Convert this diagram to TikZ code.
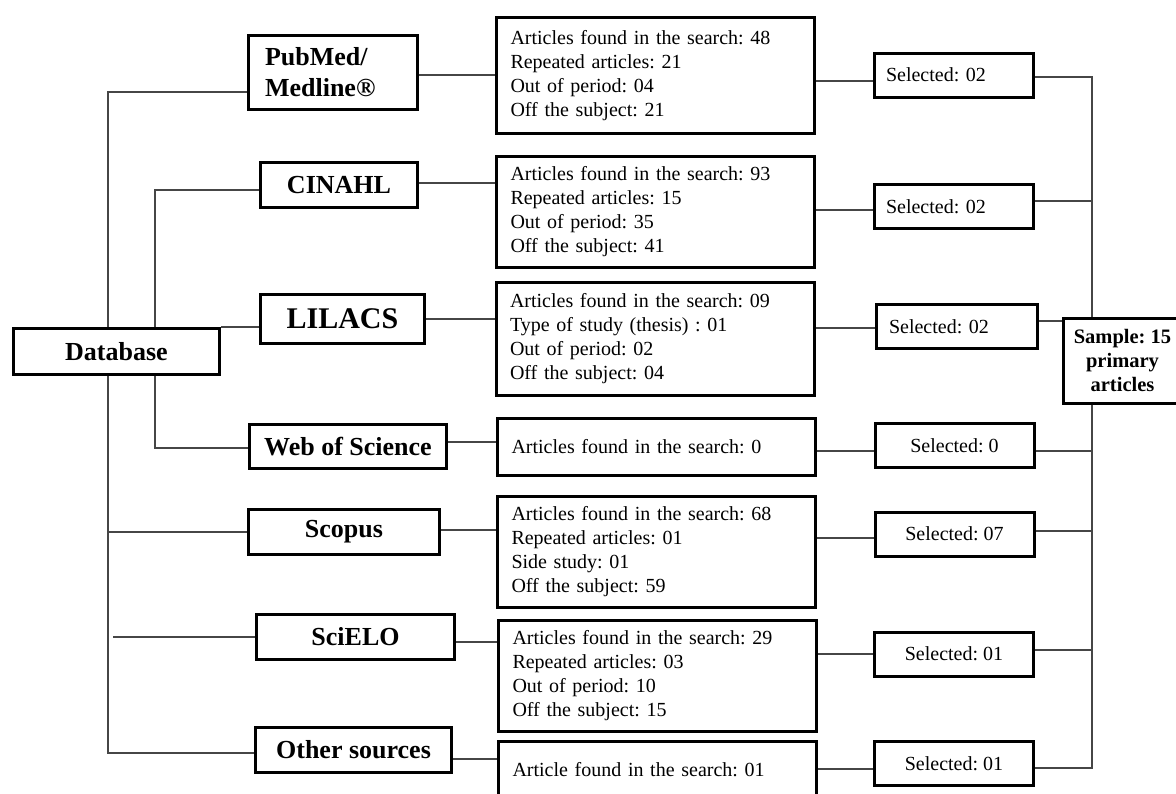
\documentclass[tikz,border=0pt]{standalone}
\usepackage{fontspec}
\setmainfont{Liberation Serif}
\usepackage{tikz}
\frenchspacing

\begin{document}
\begin{tikzpicture}[x=1pt,y=1pt,yscale=-1,
    dbbox/.style={draw,line width=3pt,fill=white,inner sep=0pt,font=\fontsize{26}{31}\selectfont\bfseries},
    infobox/.style={draw,line width=3pt,fill=white,inner xsep=14pt,inner ysep=0pt,text width=290pt,align=left,font=\fontsize{20}{24}\selectfont},
    selbox/.style={draw,line width=3pt,fill=white,inner sep=0pt,minimum width=159pt,minimum height=44pt,font=\fontsize{20}{24}\selectfont},
    link/.style={draw={rgb,255:red,70;green,70;blue,70},line width=1.2pt}]
    \useasboundingbox (0,0) rectangle (1176,793);
    \fill[white] (0,0) rectangle (1176,793);

    %spines of the tree
    \coordinate (spineA) at (108,0);
    \coordinate (spineB) at (155,0);
    \coordinate (spineC) at (1092,0);

    %Database and the sources
    \node[dbbox, minimum width=206pt, minimum height=46pt] (db) at (116.5,351.5) {Database};
    \node[dbbox, minimum width=169pt, minimum height=74pt, text width=136pt, align=left] (pubmed) at (333,72.5) {PubMed/\\Medline®};
    \node[dbbox, minimum width=157pt, minimum height=45pt] (cinahl) at (339,185) {CINAHL};
    \node[dbbox, minimum width=164pt, minimum height=49pt, font=\fontsize{30}{34}\selectfont\bfseries] (lilacs) at (342.5,319) {LILACS};
    \node[dbbox, minimum width=197pt, minimum height=44pt] (wos) at (348,446.5) {Web of Science};
    \node[dbbox, minimum width=191pt, minimum height=45pt] (scopus) at (344,532) {Scopus};
    \node[dbbox, minimum width=198pt, minimum height=45pt] (scielo) at (355.5,637) {SciELO};
    \node[dbbox, minimum width=196pt, minimum height=45pt] (other) at (353.5,750) {Other sources};

    %search results
    \node[infobox, minimum height=116pt] (pubmedres) at (655.5,75.5) {Articles found in the search: 48\\Repeated articles: 21\\Out of period: 04\\Off the subject: 21};
    \node[infobox, minimum height=111pt] (cinahlres) at (655.5,212) {Articles found in the search: 93\\Repeated articles: 15\\Out of period: 35\\Off the subject: 41};
    \node[infobox, minimum height=113pt] (lilacsres) at (655,339) {Articles found in the search: 09\\Type of study (thesis) : 01\\Out of period: 02\\Off the subject: 04};
    \node[infobox, minimum height=57pt] (wosres) at (656.5,447) {Articles found in the search: 0};
    \node[infobox, minimum height=111pt] (scopusres) at (656.5,552) {Articles found in the search: 68\\Repeated articles: 01\\Side study: 01\\Off the subject: 59};
    \node[infobox, minimum height=111pt] (scielores) at (657.5,676) {Articles found in the search: 29\\Repeated articles: 03\\Out of period: 10\\Off the subject: 15};
    \node[infobox, minimum height=57pt] (otherres) at (657.5,770) {Article found in the search: 01};

    %selected
    \node[selbox, text width=136pt, align=left] (pubmedsel) at (954,75) {Selected: 02};
    \node[selbox, text width=136pt, align=left] (cinahlsel) at (954,206.5) {Selected: 02};
    \node[selbox, minimum width=161pt, text width=136pt, align=left] (lilacssel) at (957,326.5) {Selected: 02};
    \node[selbox] (wossel) at (954.5,445.5) {Selected: 0};
    \node[selbox] (scopussel) at (954.5,534) {Selected: 07};
    \node[selbox] (scielosel) at (954,654) {Selected: 01};
    \node[selbox] (othersel) at (954,763.5) {Selected: 01};

    %sample
    \node[dbbox, font=\fontsize{20.5}{24}\selectfont\bfseries, align=center, minimum width=119pt, minimum height=85pt] (sample) at (1122.5,360.5) {Sample: 15\\primary\\articles};

    %left tree
    \draw[link] (db.north -| spineA) |- (pubmed.west |- 0,92);
    \draw[link] (db.north -| spineB) |- (cinahl.west |- 0,190);
    \draw[link] (db.north east) -- (db.north east -| lilacs.west);
    \draw[link] (db.south -| spineB) |- (wos.west |- 0,448);
    \draw[link] (db.south -| spineA) |- (other.west |- 0,753);
    \draw[link] (scopus.west) -- (scopus.west -| spineA);
    \draw[link] (scielo.west) -- (scielo.west -| 113,0);

    %sources to results
    \draw[link] (pubmed.east |- 0,75) -- (pubmedres.west |- 0,75);
    \draw[link] (cinahl.east |- 0,183) -- (cinahlres.west |- 0,183);
    \draw[link] (lilacs.east |- 0,319) -- (lilacsres.west |- 0,319);
    \draw[link] (wos.east |- 0,442) -- (wosres.west |- 0,442);
    \draw[link] (scopus.east |- 0,530) -- (scopusres.west |- 0,530);
    \draw[link] (scielo.east |- 0,642) -- (scielores.west |- 0,642);
    \draw[link] (other.east |- 0,759) -- (otherres.west |- 0,759);

    %results to selected
    \draw[link] (pubmedres.east |- 0,81) -- (pubmedsel.west |- 0,81);
    \draw[link] (cinahlres.east |- 0,210) -- (cinahlsel.west |- 0,210);
    \draw[link] (lilacsres.east |- 0,328) -- (lilacssel.west |- 0,328);
    \draw[link] (wosres.east |- 0,451) -- (wossel.west |- 0,451);
    \draw[link] (scopusres.east |- 0,538) -- (scopussel.west |- 0,538);
    \draw[link] (scielores.east |- 0,654) -- (scielosel.west |- 0,654);
    \draw[link] (otherres.east |- 0,769) -- (othersel.west |- 0,769);

    %right tree
    \draw[link] (pubmedsel.east |- 0,77) -| (spineC |- sample.north);
    \draw[link] (spineC |- sample.south) |- (othersel.east |- 0,768);
    \draw[link] (cinahlsel.east |- 0,201) -- (spineC |- 0,201);
    \draw[link] (lilacssel.east |- 0,321) -- (sample.west |- 0,321);
    \draw[link] (wossel.east |- 0,451) -- (spineC |- 0,451);
    \draw[link] (scopussel.east |- 0,531) -- (spineC |- 0,531);
    \draw[link] (scielosel.east |- 0,650) -- (spineC |- 0,650);
\end{tikzpicture}
\end{document}
